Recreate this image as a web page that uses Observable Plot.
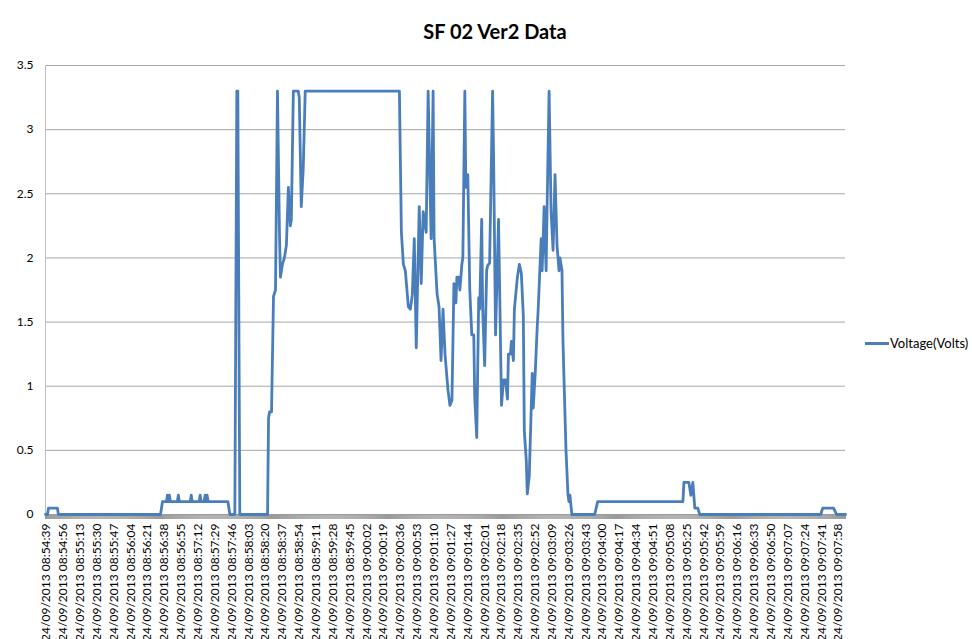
<!DOCTYPE html>
<html><head><meta charset="utf-8">
<script src="https://cdn.jsdelivr.net/npm/d3@7"></script>
<script src="https://cdn.jsdelivr.net/npm/@observablehq/plot@0.6"></script>
<style>
body{margin:0;background:#fff;}
#wrap{position:relative;width:972px;height:639px;overflow:hidden;font-family:Lato,"Liberation Sans",sans-serif;background:#fff;}
#wrap svg{position:absolute;left:0;top:0;}
#title{position:absolute;left:0;width:990px;top:19px;text-align:center;font-weight:bold;font-size:20px;line-height:24px;color:#000;}
#legend{position:absolute;left:865px;top:335px;font-size:13px;line-height:16px;display:flex;align-items:center;color:#000;}
#legend .sw{display:inline-block;width:24px;height:3px;background:#4a7ebb;margin-right:1px;}
</style></head><body>
<div id="wrap"><div id="title">SF 02 Ver2 Data</div><div id="legend"><span class="sw"></span>Voltage(Volts)</div></div>
<script>
// Data: seconds after 24/09/2013 08:54:39 and voltage at each vertex of the trace
const startTime = "2013-09-24T08:54:39Z";
const seconds = [-1,1,2,11,12,115,117,121,122,123,124,125,132,133,134,145,146,147,154,155,156,159,160,161,162,163,183,185,190,192,193,195,223,224,225,227,229,231,233,235,236,238,240,242,244,246,247,249,254,255,257,259,261,356,358,360,362,365,367,369,371,373,376,378,380,383,385,388,390,391,394,396,398,400,402,405,407,409,411,413,414,416,417,419,420,422,423,425,427,429,431,432,434,436,437,439,440,442,444,445,447,450,451,453,456,459,461,463,465,466,468,469,471,472,475,477,479,481,482,484,485,487,490,491,493,495,496,499,500,502,504,505,507,509,511,513,515,517,518,520,521,522,524,526,527,528,530,553,556,642,643,648,650,652,654,657,659,781,783,794,797,806];
const volts   = [0,0,0.05,0.05,0,0,0.1,0.1,0.15,0.1,0.15,0.1,0.1,0.15,0.1,0.1,0.15,0.1,0.1,0.15,0.1,0.1,0.15,0.1,0.15,0.1,0.1,0,0,3.3,3.3,0,0,0.75,0.8,0.8,1.7,1.75,3.3,2.2,1.85,1.95,2.0,2.1,2.55,2.25,2.3,3.3,3.3,3.25,2.4,2.7,3.3,3.3,2.2,1.95,1.9,1.62,1.6,1.71,2.15,1.3,2.4,1.8,2.36,2.2,3.3,2.15,3.3,2.15,1.72,1.62,1.2,1.6,1.25,0.97,0.85,0.89,1.8,1.65,1.85,1.85,1.75,1.95,2.0,3.3,2.55,2.65,1.75,1.4,1.4,0.91,0.6,1.69,1.6,2.3,1.6,1.16,1.9,1.94,1.96,3.3,2.8,1.4,2.3,0.85,1.05,1.05,0.9,1.25,1.25,1.35,1.2,1.6,1.85,1.95,1.88,1.55,0.65,0.42,0.16,0.3,1.1,0.83,1.1,1.46,1.6,2.15,1.9,2.4,1.9,2.4,3.3,2.36,2.06,2.65,2.1,1.9,2.0,1.9,1.35,1.07,0.51,0.16,0.1,0.15,0,0,0.1,0.1,0.25,0.25,0.15,0.25,0.05,0.05,0,0,0.05,0.05,0,0];
const tickLabels = ["08:54:39","08:54:56","08:55:13","08:55:30","08:55:47","08:56:04","08:56:21","08:56:38","08:56:55","08:57:12","08:57:29","08:57:46","08:58:03","08:58:20","08:58:37","08:58:54","08:59:11","08:59:28","08:59:45","09:00:02","09:00:19","09:00:36","09:00:53","09:01:10","09:01:27","09:01:44","09:02:01","09:02:18","09:02:35","09:02:52","09:03:09","09:03:26","09:03:43","09:04:00","09:04:17","09:04:34","09:04:51","09:05:08","09:05:25","09:05:42","09:05:59","09:06:16","09:06:33","09:06:50","09:07:07","09:07:24","09:07:41","09:07:58"];
const yTicks = [0,0.5,1,1.5,2,2.5,3,3.5];

const t0 = new Date(startTime);
const toDate = s => new Date(t0.getTime() + s * 1000);
const data = seconds.map((s, i) => ({time: toDate(s), v: volts[i]}));
const tickDates = tickLabels.map(l => new Date(`2013-09-24T${l}Z`));
const fmt = d3.utcFormat("%d/%m/%Y %H:%M:%S");
const xDomain = [toDate(seconds[0]), toDate(seconds[seconds.length - 1])];
const secondTicks = d3.utcSecond.range(xDomain[0], new Date(xDomain[1].getTime() + 1));

const chart = Plot.plot({
  width: 972, height: 639,
  marginLeft: 45, marginRight: 127, marginTop: 65, marginBottom: 125,
  style: {fontFamily: "Lato, 'Liberation Sans', sans-serif", fontSize: "12px", color: "#000", background: "transparent", overflow: "visible"},
  x: {type: "utc", domain: xDomain, label: null},
  y: {domain: [0, 3.5], label: null},
  marks: [
    Plot.gridY(yTicks.slice(1), {stroke: "#a6a6a6", strokeOpacity: 1}),
    Plot.axisY(yTicks, {tickSize: 0, tickPadding: 12, tickFormat: d => String(d), fontSize: 12, label: null}),
    Plot.ruleX([xDomain[0]], {stroke: "#bfbfbf"}),
    Plot.axisX(secondTicks, {tickSize: 5, tickFormat: () => "", stroke: "#9a9a9a", strokeOpacity: 1, label: null}),
    Plot.ruleY([0], {stroke: "#9a9a9a"}),
    Plot.axisX(tickDates, {tickSize: 0, tickPadding: 9, tickRotate: -90, tickFormat: fmt, fontSize: 12, label: null}),
    Plot.line(data, {x: "time", y: "v", stroke: "#4a7ebb", strokeWidth: 2.8, strokeLinejoin: "round"})
  ]
});
document.getElementById("wrap").prepend(chart);
</script>
</body></html>
